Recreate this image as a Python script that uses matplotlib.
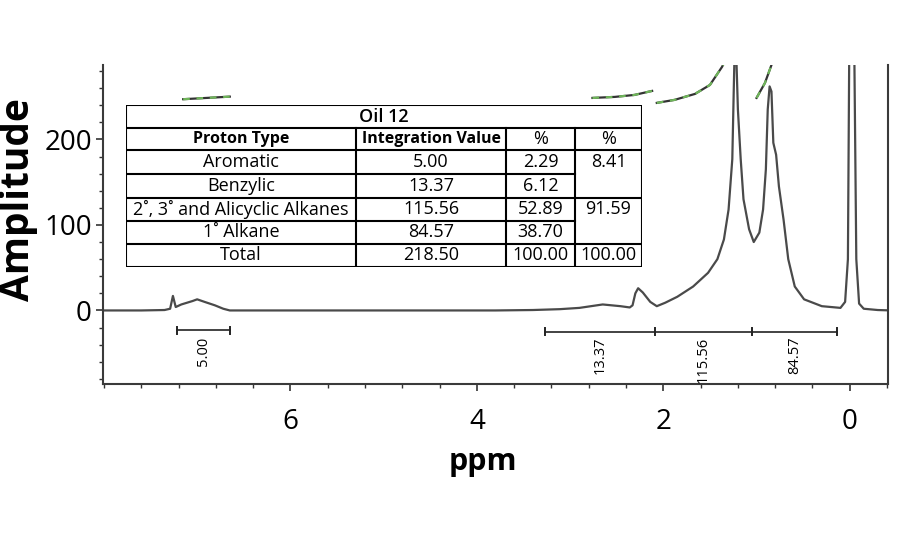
"""
1H NMR spectrum of Oil 12 with integration regions and summary table.
"""

import matplotlib.pyplot as plt
from matplotlib.ticker import MultipleLocator

plt.rcParams["font.family"] = ["Open Sans", "DejaVu Sans"]

# spectrum trace (ppm, amplitude)
spectrum_ppm = [
    8.05, 7.60, 7.35, 7.29, 7.26, 7.23, 7.17, 7.11, 7.05, 7.00, 6.92, 6.81,
    6.72, 6.65, 6.30, 5.50, 4.50, 3.80, 3.40, 3.11, 2.90, 2.65, 2.46, 2.36,
    2.33, 2.30, 2.27, 2.22, 2.14, 2.07, 1.98, 1.85, 1.68, 1.52, 1.42, 1.35,
    1.30, 1.26, 1.245, 1.23, 1.215, 1.20, 1.17, 1.14, 1.08, 1.03, 0.97, 0.93,
    0.90, 0.88, 0.86, 0.84, 0.82, 0.79, 0.76, 0.71, 0.66, 0.59, 0.49, 0.30,
    0.10, 0.05, 0.02, 0.00, -0.04, -0.07, -0.10, -0.15, -0.30, -0.45,
]
spectrum_amp = [
    0, 0, 0.5, 2, 17, 4, 7, 9, 11, 13, 10, 6,
    2, 0, 0, 0, 0, 0, 0.5, 1.5, 3, 7, 5, 3.5,
    6, 20, 26, 21, 10, 5, 9, 16, 28, 44, 60, 83,
    118, 177, 255, 330, 290, 235, 177, 130, 95, 80, 91, 118,
    165, 235, 262, 256, 196, 182, 145, 106, 60, 28, 13, 5,
    3, 10, 60, 400, 400, 60, 8, 2, 0.5, 0,
]

# integral traces (clipped at the top of the plot)
integral_curves = [
    ([7.15, 6.90, 6.65], [247, 248.5, 250]),
    ([2.76, 2.52, 2.31, 2.12], [248.5, 249.7, 252, 256.7]),
    ([2.07, 1.88, 1.66, 1.50, 1.37, 1.30], [242.7, 246.2, 253.2, 263.7, 284.8, 300]),
    ([1.00, 0.91, 0.84, 0.80], [248.5, 266, 287, 300]),
]

# integration regions
aromatic_edges = [7.22, 6.65]
aliphatic_edges = [3.27, 2.09, 1.05, 0.14]
integral_labels = ["5.00", "13.37", "115.56", "84.57"]

# table contents
table_title = "Oil 12"
table_header = ["Proton Type", "Integration Value", "%", "%"]
proton_types = ["Aromatic", "Benzylic", "2˚, 3˚ and Alicyclic Alkanes", "1˚ Alkane", "Total"]
integration_values = ["5.00", "13.37", "115.56", "84.57", "218.50"]
percent_values = ["2.29", "6.12", "52.89", "38.70", "100.00"]
group_percent = ["8.41", "91.59", "100.00"]
group_span = [2, 2, 1]

FIG_W, FIG_H = 900, 550
LINE_COLOR = "#4a4a4a"


def px_box(left, top, right, bottom):
    """Convert a pixel box to figure fractions for add_axes."""
    return [left / FIG_W, 1 - bottom / FIG_H, (right - left) / FIG_W, (bottom - top) / FIG_H]


def draw_integral_bar(ax, edges, y):
    """Draw an integration bar with end caps and dividers."""
    ax.plot([edges[0], edges[-1]], [y, y], color="#222222", lw=1.2)
    for edge in edges:
        ax.plot([edge, edge], [y - 4, y + 4], color="#222222", lw=1.4)


def draw_table(fig):
    """Draw the integration summary table with merged cells."""
    tax = fig.add_axes(px_box(126, 105, 642, 267))
    tax.set_xlim(126, 642)
    tax.set_ylim(267, 105)
    tax.axis("off")

    rows = [105, 128, 150, 174, 198, 221, 243.5, 267]
    cols = [126, 356, 506, 575, 642]
    lw = 1.5

    for y in [105, 128, 150, 198, 243.5, 267]:
        tax.plot([cols[0], cols[-1]], [y, y], color="black", lw=lw, solid_capstyle="projecting")
    for y in [174, 221]:
        tax.plot([cols[0], cols[3]], [y, y], color="black", lw=lw)
    tax.plot([cols[0], cols[0]], [rows[0], rows[-1]], color="black", lw=lw)
    tax.plot([cols[-1], cols[-1]], [rows[0], rows[-1]], color="black", lw=lw)
    for x in cols[1:4]:
        tax.plot([x, x], [rows[1], rows[-1]], color="black", lw=lw)

    def cx(i):
        return (cols[i] + cols[i + 1]) / 2

    def cy(j):
        return (rows[j] + rows[j + 1]) / 2

    tax.text((cols[0] + cols[-1]) / 2, cy(0), table_title, ha="center", va="center",
             fontsize=13, fontweight="semibold")
    for i, label in enumerate(table_header):
        size = 11.5 if i < 2 else 13
        weight = "bold" if i < 2 else "normal"
        tax.text(cx(i), cy(1), label, ha="center", va="center", fontsize=size,
                 fontweight=weight)

    for k in range(len(proton_types)):
        j = k + 2
        for i, value in enumerate([proton_types[k], integration_values[k], percent_values[k]]):
            tax.text(cx(i), cy(j), value, ha="center", va="center", fontsize=13)

    j = 2
    for value, span in zip(group_percent, group_span):
        tax.text(cx(3), cy(j), value, ha="center", va="center", fontsize=13)
        j += span


fig = plt.figure(figsize=(FIG_W / 100, FIG_H / 100), dpi=100)
ax = fig.add_axes(px_box(103, 65, 888, 384))

ax.plot(spectrum_ppm, spectrum_amp, color=LINE_COLOR, lw=1.6)

for curve_ppm, curve_amp in integral_curves:
    ax.plot(curve_ppm, curve_amp, color="#333333", lw=1.6)
    ax.plot(curve_ppm, curve_amp, color="#6fb55a", lw=1.6, ls=(0, (3, 3)))

draw_integral_bar(ax, aromatic_edges, -23)
draw_integral_bar(ax, aliphatic_edges, -25)

segments = list(zip(aromatic_edges[:-1], aromatic_edges[1:])) + \
    list(zip(aliphatic_edges[:-1], aliphatic_edges[1:]))
for (start, end), label in zip(segments, integral_labels):
    ax.annotate(label, xy=((start + end) / 2, -24), xytext=(0, -4),
                textcoords="offset points", rotation=90, ha="center", va="top",
                fontsize=10.5)

ax.set_xlim(8.01, -0.41)
ax.set_ylim(-86, 287)

ax.xaxis.set_minor_locator(MultipleLocator(0.4))
ax.yaxis.set_minor_locator(MultipleLocator(20))
ax.set_xticks([6, 4, 2, 0])
ax.set_yticks([0, 100, 200])

ax.tick_params(axis="both", which="major", direction="out", length=5, width=1.2,
               color="#333333", labelsize=20)
ax.tick_params(axis="both", which="minor", direction="out", length=3, width=1.0,
               color="#333333")
ax.tick_params(axis="x", which="major", pad=12)
ax.tick_params(axis="y", which="major", pad=3)
ax.tick_params(axis="y", which="both", right=False)

for side in ["left", "bottom", "right"]:
    ax.spines[side].set_color("#3a3a3a")
    ax.spines[side].set_linewidth(1.5)
ax.spines["top"].set_visible(False)

fig.text(19 / FIG_W, 1 - 200 / FIG_H, "Amplitude", rotation=90, ha="center", va="center",
         fontsize=28, fontweight="bold")
fig.text(483 / FIG_W, 1 - 462 / FIG_H, "ppm", ha="center", va="center",
         fontsize=22, fontweight="bold")

draw_table(fig)

fig.savefig("out.png", dpi=100)
plt.close(fig)
